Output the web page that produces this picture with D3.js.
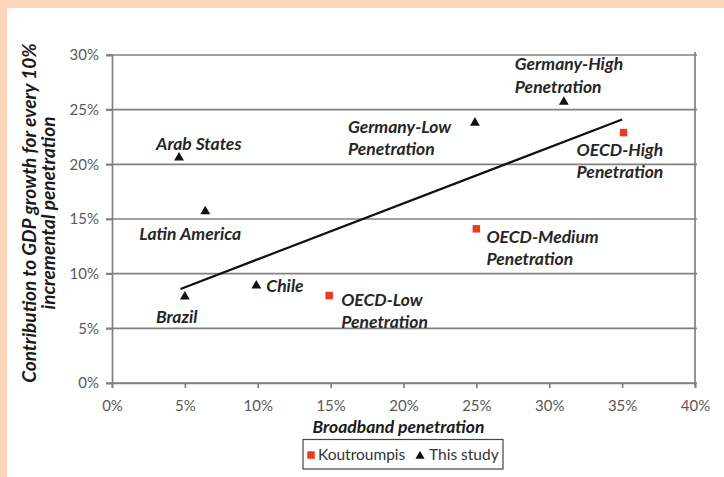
<!DOCTYPE html>
<html>
<head>
<meta charset="utf-8">
<script src="https://cdn.jsdelivr.net/npm/d3@7"></script>
<style>
  html, body { margin: 0; padding: 0; background: #fff; }
  svg { display: block; }
  text { font-family: Lato, "Open Sans", sans-serif; }
</style>
</head>
<body>
<script>
// ---------------- DATA ----------------
const xTicks = [0, 0.05, 0.10, 0.15, 0.20, 0.25, 0.30, 0.35, 0.40];
const yTicks = [0, 0.05, 0.10, 0.15, 0.20, 0.25, 0.30];

const studyNames = ["Arab States", "Latin America", "Brazil", "Chile", "Germany-Low Penetration", "Germany-High Penetration"];
const studyX = [0.046, 0.064, 0.050, 0.099, 0.249, 0.310];
const studyY = [0.206, 0.157, 0.079, 0.089, 0.238, 0.257];

const koutNames = ["OECD-Low Penetration", "OECD-Medium Penetration", "OECD-High Penetration"];
const koutX = [0.149, 0.250, 0.351];
const koutY = [0.080, 0.141, 0.229];

const trendX = [0.047, 0.350];
const trendY = [0.086, 0.241];

const xTitle = "Broadband penetration";
const yTitle = ["Contribution to GDP growth for every 10%", "incremental penetration"];
const legendNames = ["Koutroumpis", "This study"];

// ---------------- LAYOUT ----------------
const W = 724, H = 477;
const svg = d3.select("body").append("svg").attr("width", W).attr("height", H);

// frame
svg.append("rect").attr("width", W).attr("height", H).attr("fill", "#fdd5b8");
svg.append("rect").attr("x", 7).attr("y", 8).attr("width", W - 7).attr("height", H - 8).attr("fill", "#ffffff");

const x = d3.scaleLinear().domain([0, 0.40]).range([112, 695]);
const y = d3.scaleLinear().domain([0, 0.30]).range([383, 55]);
const pct = d3.format(".0%");
const gridColor = "#808080";

// horizontal grid
svg.append("g").selectAll("line").data(yTicks).join("line")
  .attr("x1", x(0) - 6).attr("x2", x(0.40) + 2)
  .attr("y1", d => y(d)).attr("y2", d => y(d))
  .attr("stroke", gridColor).attr("stroke-width", 1.7);

// y axis
const yAxis = svg.append("g").attr("transform", `translate(${x(0)},0)`)
  .call(d3.axisLeft(y).tickValues(yTicks).tickFormat(pct).tickSize(6).tickPadding(7));
yAxis.select(".domain").attr("stroke", gridColor).attr("stroke-width", 1.7);
yAxis.selectAll(".tick line").attr("stroke", gridColor).attr("stroke-width", 1.7);
yAxis.selectAll("text").attr("font-size", 15).attr("fill", "#595959").attr("font-family", "Lato");

// right border line
svg.append("line").attr("x1", x(0.40)).attr("x2", x(0.40)).attr("y1", y(0.30) - 3).attr("y2", y(0) + 3)
  .attr("stroke", gridColor).attr("stroke-width", 1.7);

// x axis
const xAxis = svg.append("g").attr("transform", `translate(0,${y(0)})`)
  .call(d3.axisBottom(x).tickValues(xTicks).tickFormat(pct).tickSize(5).tickPadding(12));
xAxis.select(".domain").attr("stroke", gridColor).attr("stroke-width", 1.7);
xAxis.selectAll(".tick line").attr("stroke", gridColor).attr("stroke-width", 1.7);
xAxis.selectAll("text").attr("font-size", 15).attr("fill", "#595959").attr("font-family", "Lato");

// trend line
svg.append("path")
  .datum(d3.range(trendX.length))
  .attr("d", d3.line().x(i => x(trendX[i])).y(i => y(trendY[i])))
  .attr("stroke", "#111").attr("stroke-width", 2.2).attr("fill", "none");

// markers
const tri = d3.symbol().type(d3.symbolTriangle).size(42);
svg.append("g").selectAll("path").data(d3.range(studyNames.length)).join("path")
  .attr("d", tri)
  .attr("transform", i => `translate(${x(studyX[i])},${y(studyY[i])})`)
  .attr("fill", "#111");

const sq = d3.symbol().type(d3.symbolSquare).size(56);
svg.append("g").selectAll("path").data(d3.range(koutNames.length)).join("path")
  .attr("d", sq)
  .attr("transform", i => `translate(${x(koutX[i])},${y(koutY[i])})`)
  .attr("fill", "#f03a1c");

// point labels (offsets in pixels relative to marker)
const labelOffsets = {
  "Arab States": [-23, -8],
  "Latin America": [-66, 29],
  "Brazil": [-29, 26],
  "Chile": [10, 6],
  "Germany-Low Penetration": [-127, 10],
  "Germany-High Penetration": [-49, -32],
  "OECD-Low Penetration": [12, 10],
  "OECD-Medium Penetration": [10, 14],
  "OECD-High Penetration": [-47, 23]
};
const allLabels = studyNames.map((n, i) => ({ name: n, px: x(studyX[i]), py: y(studyY[i]) }))
  .concat(koutNames.map((n, i) => ({ name: n, px: x(koutX[i]), py: y(koutY[i]) })));

allLabels.forEach(d => {
  const off = labelOffsets[d.name];
  let lines = [d.name];
  const m = d.name.match(/^(.*) (Penetration)$/);
  if (m) lines = [m[1], m[2]];
  const t = svg.append("text")
    .attr("x", d.px + off[0]).attr("y", d.py + off[1])
    .attr("font-size", 17.5).attr("font-weight", "bold").attr("font-style", "italic")
    .attr("fill", "#262626");
  lines.forEach((l, k) => {
    t.append("tspan").attr("x", d.px + off[0]).attr("dy", k === 0 ? 0 : 22.5).text(l);
  });
});

// axis titles
svg.append("text")
  .attr("x", (x(0) + x(0.40)) / 2 - 5).attr("y", 433)
  .attr("text-anchor", "middle")
  .attr("font-size", 17.5).attr("font-weight", "bold").attr("font-style", "italic")
  .attr("fill", "#1a1a1a").text(xTitle);

const yt = svg.append("text")
  .attr("transform", `translate(0,${(y(0) + y(0.30)) / 2 - 6}) rotate(-90)`)
  .attr("text-anchor", "middle")
  .attr("font-size", 19).attr("font-weight", "bold").attr("font-style", "italic")
  .attr("fill", "#1a1a1a");
yt.append("tspan").attr("x", 0).attr("y", 36).text(yTitle[0]);
yt.append("tspan").attr("x", 0).attr("y", 55).text(yTitle[1]);

// legend
const lg = svg.append("g");
lg.append("rect").attr("x", 303).attr("y", 439.5).attr("width", 200).attr("height", 29.5)
  .attr("fill", "#fff").attr("stroke", "#444").attr("stroke-width", 1.2);
lg.append("path").attr("d", sq).attr("transform", "translate(311,455)").attr("fill", "#f03a1c");
lg.append("text").attr("x", 318).attr("y", 460).attr("font-size", 15.5).attr("fill", "#333").text(legendNames[0]);
lg.append("path").attr("d", d3.symbol().type(d3.symbolTriangle).size(36)).attr("transform", "translate(420,456)").attr("fill", "#111");
lg.append("text").attr("x", 429).attr("y", 460).attr("font-size", 15.5).attr("fill", "#333").text(legendNames[1]);
</script>
</body>
</html>
